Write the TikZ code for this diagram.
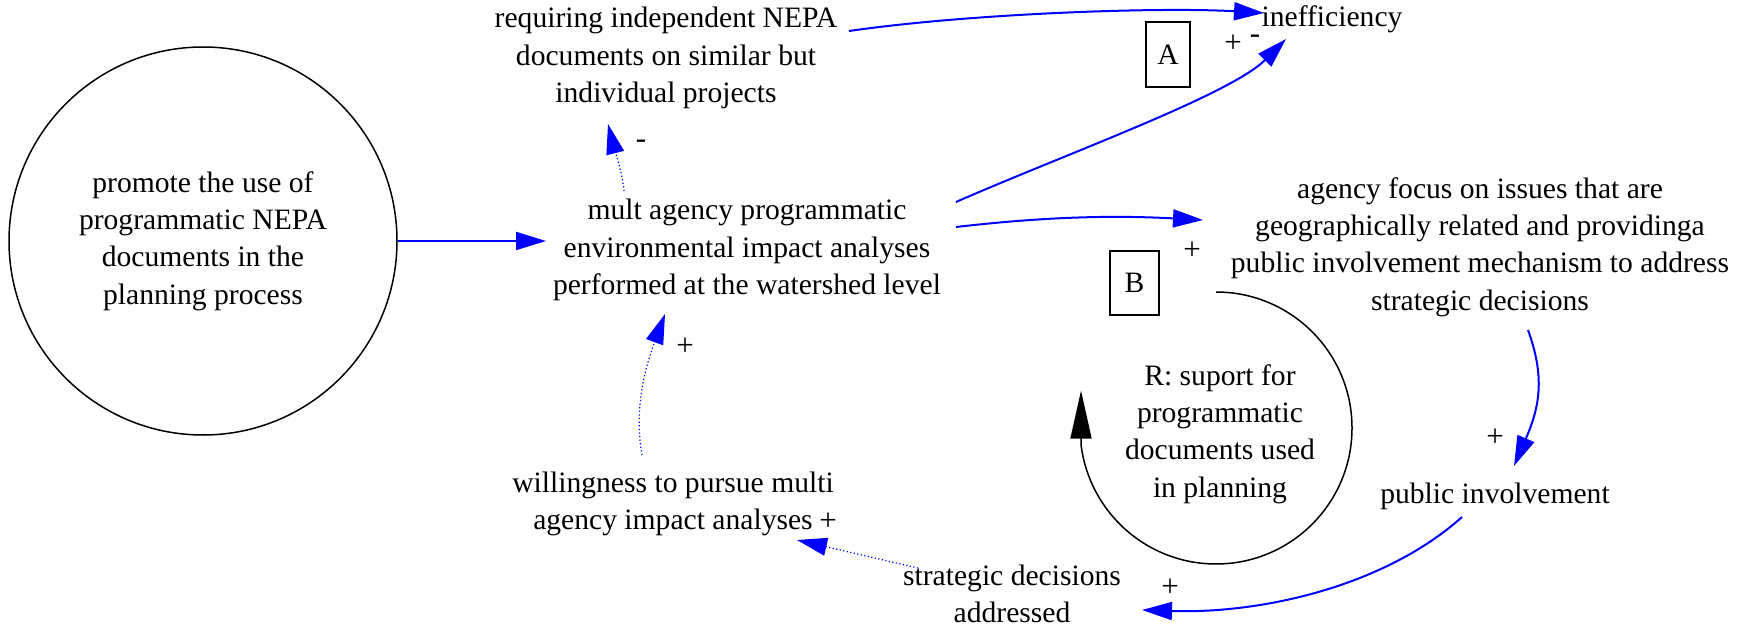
\documentclass[tikz,border=0pt]{standalone}
\usepackage{fontspec}
\setmainfont{Liberation Serif}
\usetikzlibrary{arrows.meta,calc}
\begin{document}
\begin{tikzpicture}[x=0.5pt, y=-0.5pt,
  txt/.style={font=\fontsize{14.8pt}{18.6pt}\selectfont, align=center, inner sep=0pt},
  lbl/.style={font=\fontsize{15.5pt}{17pt}\selectfont, inner sep=0pt},
  link/.style={draw=blue, line width=1pt, -{Triangle[length=15pt,width=9pt]}},
  dlink/.style={draw=blue, line width=0.6pt, dash pattern=on 0.6pt off 1.2pt, -{Triangle[length=15pt,width=9pt]}},
  boxnode/.style={draw, line width=0.75pt, font=\fontsize{14.8pt}{16pt}\selectfont, inner sep=0pt},
  loopline/.style={draw=black, line width=0.75pt, -{Triangle[length=24pt,width=10.5pt]}}
]
\useasboundingbox (0,0) rectangle (1739,630);

\node[txt, circle, draw, line width=0.75pt, minimum size=194pt] (promote) at (203,241)
  {promote the use of\\programmatic NEPA\\documents in the\\planning process};
\node[txt] (mult) at (747,250) {mult agency programmatic\\environmental impact analyses\\performed at the watershed level};
\node[txt] (requiring) at (666,58) {requiring independent NEPA\\documents on similar but\\individual projects};
\node[txt] (ineff) at (1332,19) {inefficiency};
\node[txt] (agency) at (1480,247) {agency focus on issues that are\\geographically related and providinga\\public involvement mechanism to address\\strategic decisions};
\node[txt] (public) at (1495,496) {public involvement};
\node[txt] (strategic) at (1012,594) {strategic decisions\\addressed};
\node[txt] (willing) at (673,504) {willingness to pursue multi\\agency impact analyses};
\node[txt] (rtext) at (1220,434) {R: suport for\\programmatic\\documents used\\in planning};
\coordinate (rc) at (1216,428);

\node[boxnode, minimum width=22pt, minimum height=32.5pt] (boxA) at (1168,54.5) {A};
\node[boxnode, minimum width=24.5pt, minimum height=32pt] (boxB) at (1134.5,283) {B};

% connectors
\draw[link] (promote.east) -- ($(mult)+(-201,-9)$);
\draw[dlink] ($(mult)+(-123,-59)$) .. controls ($(mult)+(-125,-80)$) and ($(requiring)+(-52,90)$) .. ($(requiring)+(-58,66)$);
\draw[link] ($(requiring)+(183,-27)$) .. controls ($(requiring)+(308,-45)$) and ($(ineff)+(-170,-12)$) .. ($(ineff)+(-68,-6)$);
\draw[link] ($(mult)+(209,-48)$) .. controls ($(mult)+(316,-95)$) and ($(ineff)+(-102,76)$) .. ($(ineff)+(-46,20)$);
\draw[link] ($(mult)+(209,-23)$) .. controls ($(mult)+(296,-33)$) and ($(agency)+(-370,-32)$) .. ($(agency)+(-277,-27)$);
\draw[link] ($(agency)+(48,83)$) .. controls ($(agency)+(65,130)$) and ($(public)+(45,-90)$) .. ($(public)+(19,-30)$);
\draw[link] ($(public)+(-33,21)$) .. controls ($(public)+(-110,90)$) and ($(strategic)+(250,20)$) .. ($(strategic)+(130,16)$);
\draw[dlink] ($(strategic)+(-94,-26)$) -- ($(willing)+(124,36)$);
\draw[dlink] ($(willing)+(-31,-49)$) .. controls ($(willing)+(-40,-100)$) and ($(mult)+(-99,110)$) .. ($(mult)+(-82,64)$);

% loop
\draw[loopline] ($(rc)+(0,-136)$) arc[start angle=-90, end angle=173, radius=136] -- ++(0,-54);

% polarity labels
\node[lbl] (l1) at (641,144) {-};
\node[lbl] (l2) at (1233,44) {+};
\node[lbl] (l3) at (1255,39) {-};
\node[lbl] (l4) at (1192,251) {+};
\node[lbl] (l5) at (1495,438) {+};
\node[lbl] (l6) at (1170,588) {+};
\node[lbl] (l7) at (828,522) {+};
\node[lbl] (l8) at (685,347) {+};
\end{tikzpicture}
\end{document}
